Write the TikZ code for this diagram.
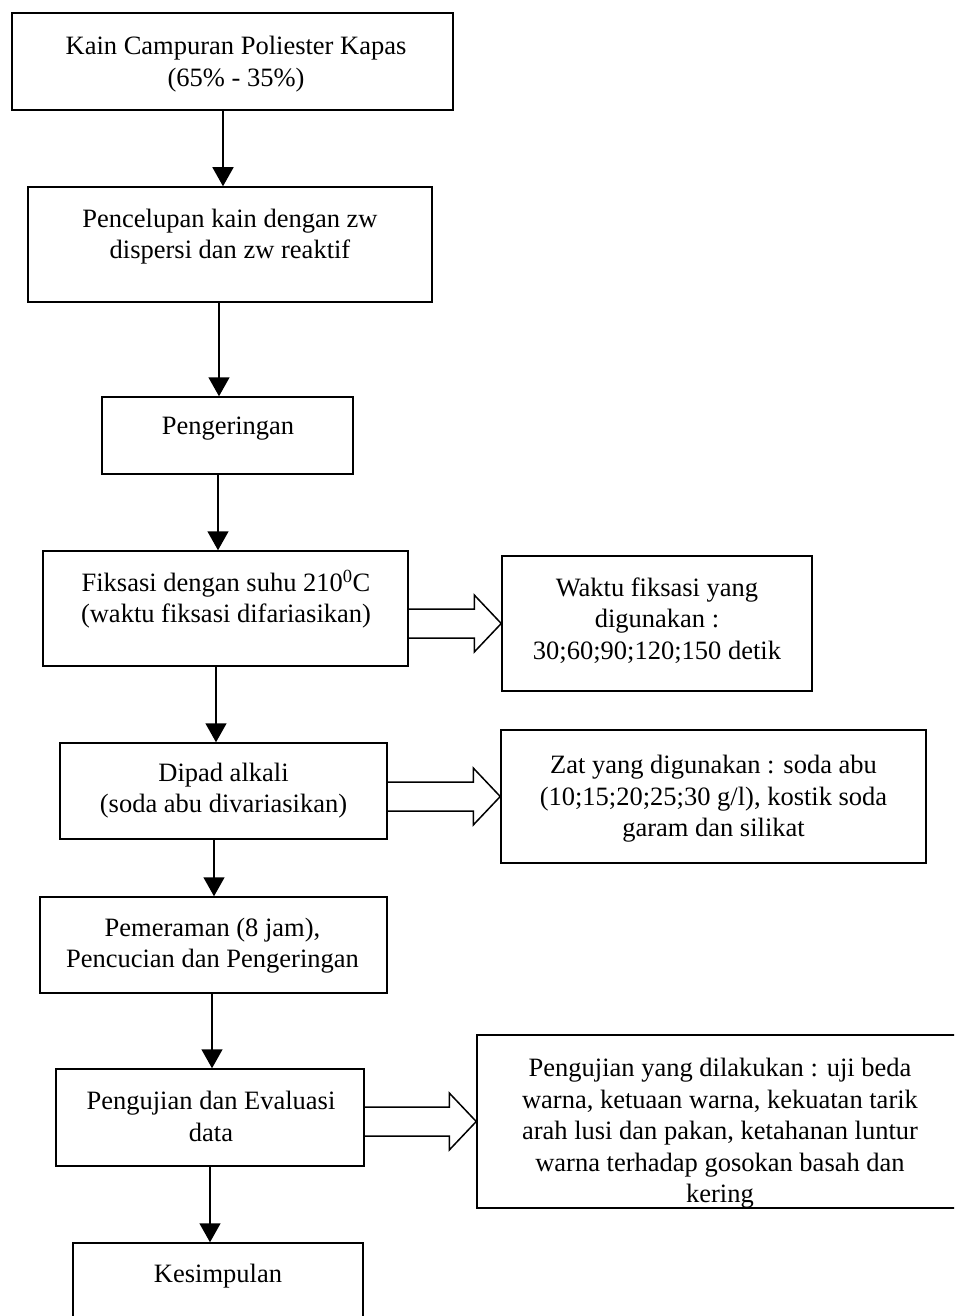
\documentclass[tikz,border=0pt]{standalone}
\usepackage{fontspec}
\setmainfont{Liberation Serif}
\usetikzlibrary{arrows.meta,calc}

\tikzset{
  stepbox/.style={draw, line width=1.5pt, inner sep=0pt},
  steptext/.style={align=center, inner sep=0pt, font=\fontsize{26.5}{31.5}\selectfont},
  flowarrow/.style={line width=1.5pt, -{Triangle[width=21pt,length=19pt]}},
  hollowarrow/.style={line width=1.5pt, line join=miter}
}

% open block arrow from the east side of #1 to the west side of #2
\newcommand{\blockarrow}[2]{%
  \draw[hollowarrow] ($(#1.east |- #2.west)+(0,-14.5)$) -- ($(#2.west)+(-27,-14.5)$)
    -- ($(#2.west)+(-27,-28.5)$) -- (#2.west) -- ($(#2.west)+(-27,28.5)$)
    -- ($(#2.west)+(-27,14.5)$) -- ($(#1.east |- #2.west)+(0,14.5)$);
}

\begin{document}
\begin{tikzpicture}[x=1pt, y=-1pt]
        \useasboundingbox (0,0) rectangle (954,1316);
        \clip (0,0) rectangle (954,1316);

        % main column
        \node[stepbox, minimum width=441, minimum height=97] at (232.5,61.5) (kain) {};
        \node[steptext] at (236,64) (kaintext) {Kain Campuran Poliester Kapas\\(65\% - 35\%)};
        \node[stepbox, minimum width=404, minimum height=115] at (230,244.5) (pencelupan) {};
        \node[steptext] at (230,236.5) (pencelupantext) {Pencelupan kain dengan zw\\dispersi dan zw reaktif};
        \node[stepbox, minimum width=251, minimum height=77] at (227.5,435.5) (pengeringan) {};
        \node[steptext] at (228,429) (pengeringantext) {Pengeringan};
        \node[stepbox, minimum width=365, minimum height=115] at (225.5,608.5) (fiksasi) {};
        \node[steptext] at (226,599) (fiksasitext) {Fiksasi dengan suhu 210\textsuperscript{0}C\\(waktu fiksasi difariasikan)};
        \node[stepbox, minimum width=327, minimum height=96] at (223.5,791) (dipad) {};
        \node[steptext] at (223.5,790.5) (dipadtext) {Dipad alkali\\(soda abu divariasikan)};
        \node[stepbox, minimum width=347, minimum height=96] at (213.5,945) (pemeraman) {};
        \node[steptext] at (212.5,945.5) (pemeramantext) {Pemeraman (8 jam),\\Pencucian dan Pengeringan};
        \node[stepbox, minimum width=308, minimum height=97] at (210,1117.5) (pengujian) {};
        \node[steptext] at (211,1116.5) (pengujiantext) {Pengujian dan Evaluasi\\data};
        \node[stepbox, minimum width=290, minimum height=102] at (218,1294) (kesimpulan) {};
        \node[steptext] at (218,1276) (kesimpulantext) {Kesimpulan};

        % side notes
        \node[stepbox, minimum width=310, minimum height=135] at (657,623.5) (waktu) {};
        \node[steptext] at (657,620.5) (waktutext) {Waktu fiksasi yang\\digunakan :\\30;60;90;120;150 detik};
        \node[stepbox, minimum width=425, minimum height=133] at (713.5,796.5) (zat) {};
        \node[steptext] at (713.5,799) (zattext) {Zat yang digunakan : soda abu\\(10;15;20;25;30 g/l), kostik soda\\garam dan silikat};
        \node[stepbox, minimum width=485, minimum height=173] at (719.5,1121.5) (ujidetail) {};
        \node[steptext] at (720,1133.5) (ujidetailtext) {Pengujian yang dilakukan : uji beda\\warna, ketuaan warna, kekuatan tarik\\arah lusi dan pakan, ketahanan luntur\\warna terhadap gosokan basah dan\\kering};

        \draw[flowarrow] ([xshift=-9.5]kain.south) -- ([xshift=-9.5]kain.south |- pencelupan.north);
        \draw[flowarrow] ([xshift=-11]pencelupan.south) -- ([xshift=-11]pencelupan.south |- pengeringan.north);
        \draw[flowarrow] ([xshift=-9.5]pengeringan.south) -- ([xshift=-9.5]pengeringan.south |- fiksasi.north);
        \draw[flowarrow] ([xshift=-9.5]fiksasi.south) -- ([xshift=-9.5]fiksasi.south |- dipad.north);
        \draw[flowarrow] ([xshift=-9.5]dipad.south) -- ([xshift=-9.5]dipad.south |- pemeraman.north);
        \draw[flowarrow] ([xshift=-1.5]pemeraman.south) -- ([xshift=-1.5]pemeraman.south |- pengujian.north);
        \draw[flowarrow] (pengujian.south) -- (pengujian.south |- kesimpulan.north);

        \blockarrow{fiksasi}{waktu}
        \blockarrow{dipad}{zat}
        \blockarrow{pengujian}{ujidetail}

    \end{tikzpicture}
\end{document}
